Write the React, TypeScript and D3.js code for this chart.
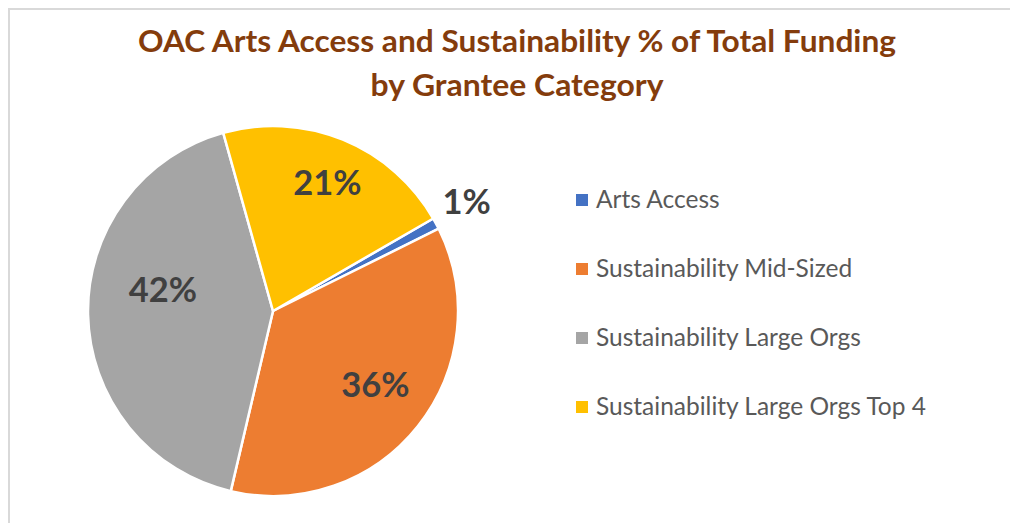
import React from "react";
import * as d3 from "d3";

const categories = [
  "Arts Access",
  "Sustainability Mid-Sized",
  "Sustainability Large Orgs",
  "Sustainability Large Orgs Top 4",
];
const shares = [1, 36, 42, 21];
const colors = ["#4472c4", "#ed7d31", "#a5a5a5", "#ffc000"];
const titleLines = [
  "OAC Arts Access and Sustainability % of Total Funding",
  "by Grantee Category",
];

const W = 1010;
const H = 523;
const cx = 273;
const cy = 311;
const R = 185;
const START = Math.PI / 3;
const titleWidths = [758, 293];

export default function App() {
  const pie = d3
    .pie<number>()
    .value((d) => d)
    .sort(null)
    .startAngle(START)
    .endAngle(START + 2 * Math.PI);
  const arcs = pie(shares);
  const arc = d3.arc<d3.PieArcDatum<number>>().innerRadius(0).outerRadius(R);
  const total = d3.sum(shares);
  const fmt = d3.format(".0%");

  // label layout: radius factor and pixel nudge per slice
  const labelLayout = [
    { k: 1.2, dx: -2, dy: -5 },
    { k: 0.72, dx: -2, dy: -9 },
    { k: 0.72, dx: 23, dy: -24 },
    { k: 0.72, dx: 4, dy: -5 },
  ];

  const legendY = d3
    .scalePoint<number>()
    .domain(d3.range(categories.length))
    .range([200, 407]);

  return (
    <svg
      width={W}
      height={H}
      style={{ position: "absolute", left: 0, top: 0, display: "block" }}
    >
      <rect x={0} y={0} width={W} height={H} fill="#ffffff" />
      <path
        d={`M9 ${H} L9 9 L${W} 9`}
        fill="none"
        stroke="#d9d9d9"
        strokeWidth={2}
      />
      <g
        fontFamily="Lato, 'Open Sans', sans-serif"
        fontWeight="bold"
        fontSize={30.5}
        fill="#843c0c"
        textAnchor="middle"
      >
        {titleLines.map((t, i) => (
          <text
            key={i}
            x={517}
            y={52 + i * 44}
            textLength={titleWidths[i]}
            lengthAdjust="spacingAndGlyphs"
          >
            {t}
          </text>
        ))}
      </g>
      <g transform={`translate(${cx},${cy})`}>
        {arcs.map((a, i) => (
          <path
            key={i}
            d={arc(a) || ""}
            fill={colors[i]}
            stroke="#ffffff"
            strokeWidth={2.5}
            strokeLinejoin="round"
          />
        ))}
        {arcs.map((a, i) => {
          const L = labelLayout[i];
          const mid = (a.startAngle + a.endAngle) / 2;
          const r = R * L.k;
          const x = Math.sin(mid) * r + L.dx;
          const y = -Math.cos(mid) * r + L.dy;
          return (
            <text
              key={i}
              x={x}
              y={y}
              dy="0.36em"
              textAnchor="middle"
              fontFamily="Lato, 'Open Sans', sans-serif"
              fontWeight="bold"
              fontSize={34.5}
              fill="#404040"
            >
              {fmt(a.data / total)}
            </text>
          );
        })}
      </g>
      <g fontFamily="Lato, 'Open Sans', sans-serif" fontSize={24.5} fill="#595959">
        {categories.map((c, i) => {
          const y = legendY(i) as number;
          return (
            <g key={i}>
              <rect x={576} y={y - 6} width={12} height={12} fill={colors[i]} />
              <text x={596} y={y + 8}>
                {c}
              </text>
            </g>
          );
        })}
      </g>
    </svg>
  );
}
